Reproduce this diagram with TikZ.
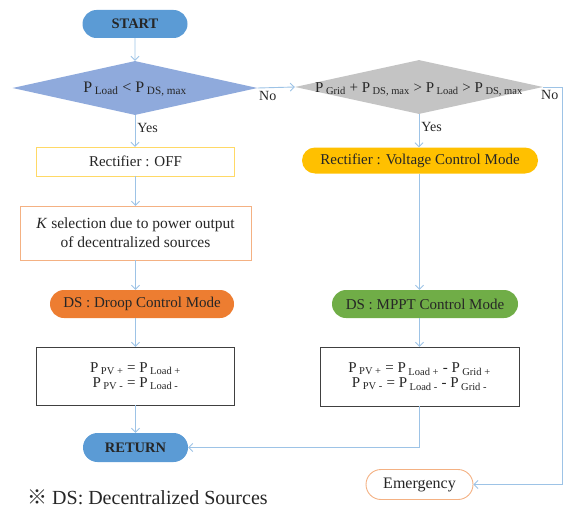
\documentclass[tikz,border=0pt]{standalone}
\usepackage{fontspec}
\setmainfont{Liberation Serif}
\newfontfamily\cjk{Noto Sans CJK SC}
\usetikzlibrary{arrows.meta,shapes.geometric,shapes.misc,calc}
\definecolor{pillblue}{HTML}{5B9BD5}
\definecolor{diablue}{HTML}{8FAADC}
\definecolor{diagray}{HTML}{C4C4C4}
\definecolor{offborder}{HTML}{FFD966}
\definecolor{salmon}{HTML}{F4B183}
\definecolor{droop}{HTML}{ED7D31}
\definecolor{volt}{HTML}{FFC000}
\definecolor{mppt}{HTML}{70AD47}
\definecolor{boxgray}{HTML}{404040}
\definecolor{conn}{HTML}{9DC3E6}
\definecolor{txt}{HTML}{262626}
\tikzset{
  pill/.style={rounded rectangle, draw=none, inner sep=0pt, text=txt, font=\fontsize{15}{17}\selectfont},
  conbox/.style={rectangle, draw, inner sep=0pt, text=txt, font=\fontsize{15}{17}\selectfont},
  conline/.style={draw=conn, line width=0.9pt},
  arr/.style={conline, -{Straight Barb[length=4pt,width=8pt]}},
  lab/.style={font=\fontsize{14}{16}\selectfont, text=txt, inner sep=0pt},
  dia/.style={diamond, draw=none, inner sep=0pt},
}
\newcommand{\sub}[1]{\,\textsubscript{#1}}
\begin{document}
\begin{tikzpicture}[x=1pt,y=-1pt]
\useasboundingbox (0,0) rectangle (564,508);
% left column
\node[pill, fill=pillblue, minimum width=105pt, minimum height=28pt, font=\fontsize{14.5}{16}\selectfont\bfseries] (start) at (135,24) {START};
\node[dia, fill=diablue, minimum width=245pt, minimum height=54pt] (d1) at (135,88) {};
\node[lab, font=\fontsize{16}{18}\selectfont] (d1t) at (135,89) {P\sub{Load} < P\sub{DS, max}};
\node[conbox, draw=offborder, fill=white, minimum width=198pt, minimum height=29pt] (off) at (135.5,161.5) {Rectifier : OFF};
\node[conbox, draw=salmon, fill=white, minimum width=231pt, minimum height=54pt, align=center, font=\fontsize{15.5}{19}\selectfont] (ksel) at (135.5,233) {\textit{K} selection due to power output\\of decentralized sources};
\node[pill, fill=droop, minimum width=184pt, minimum height=28pt] (droopn) at (142,304) {DS : Droop Control Mode};
\node[conbox, draw=boxgray, fill=white, minimum width=198pt, minimum height=58pt, align=center, font=\fontsize{15}{15}\selectfont] (box1) at (135.5,376) {P\sub{PV +} = P\sub{Load +}\\P\sub{PV -} = P\sub{Load -}};
\node[pill, fill=pillblue, minimum width=105pt, minimum height=29pt, font=\fontsize{14.5}{16}\selectfont\bfseries] (ret) at (135.5,447.5) {RETURN};
\node[lab, font=\fontsize{20}{22}\selectfont, anchor=west] (note) at (27,497) {{\cjk ※} DS: Decentralized Sources};
% right column
\node[dia, fill=diagray, minimum width=248pt, minimum height=54pt] (d2) at (419,87) {};
\node[lab, font=\fontsize{15}{17}\selectfont] (d2t) at (419,89) {P\sub{Grid} + P\sub{DS, max} > P\sub{Load} > P\sub{DS, max}};
\node[pill, fill=volt, minimum width=236pt, minimum height=26pt] (voltn) at (420,160.5) {Rectifier : Voltage Control Mode};
\node[pill, fill=mppt, minimum width=186pt, minimum height=28pt] (mpptn) at (425,304) {DS : MPPT Control Mode};
\node[conbox, draw=boxgray, fill=white, minimum width=199pt, minimum height=59pt, align=center, font=\fontsize{15}{15}\selectfont] (box2) at (419.5,376.5) {P\sub{PV +} = P\sub{Load +} - P\sub{Grid +}\\P\sub{PV -} = P\sub{Load -} - P\sub{Grid -}};
\node[pill, draw=salmon, line width=0.9pt, fill=white, minimum width=107pt, minimum height=30pt, font=\fontsize{16}{18}\selectfont] (emerg) at (419.5,484.5) {Emergency};
\coordinate (rc) at (562,87);
% connectors
\draw[arr] (start) -- (d1.north);
\draw[arr] (d1.south) -- (off.north -| d1.south) node[lab, pos=0.4, right=2pt] (yes1) {Yes};
\draw[arr] (off.south) -- (ksel.north);
\draw[arr] (ksel.south) -- (droopn.north -| ksel.south);
\draw[arr] (droopn.south -| box1.north) -- (box1.north);
\draw[arr] (box1.south) -- (ret.north -| box1.south);
\draw[arr] (d1.east) -- (d2.west);
\node[lab, anchor=north west] (no1) at (259,91) {No};
\draw[arr] (d2.south) -- (voltn.north -| d2.south) node[lab, pos=0.4, right=2pt] (yes2) {Yes};
\draw[arr] (voltn.south -| box2.north) -- (mpptn.north -| box2.north);
\draw[arr] (mpptn.south -| box2.north) -- (box2.north);
\draw[arr] (box2.south) |- (ret.east);
\draw[arr] (d2.east) -- (rc) |- (emerg.east);
\node[lab, anchor=north west] (no2) at (541,90) {No};
\end{tikzpicture}
\end{document}
